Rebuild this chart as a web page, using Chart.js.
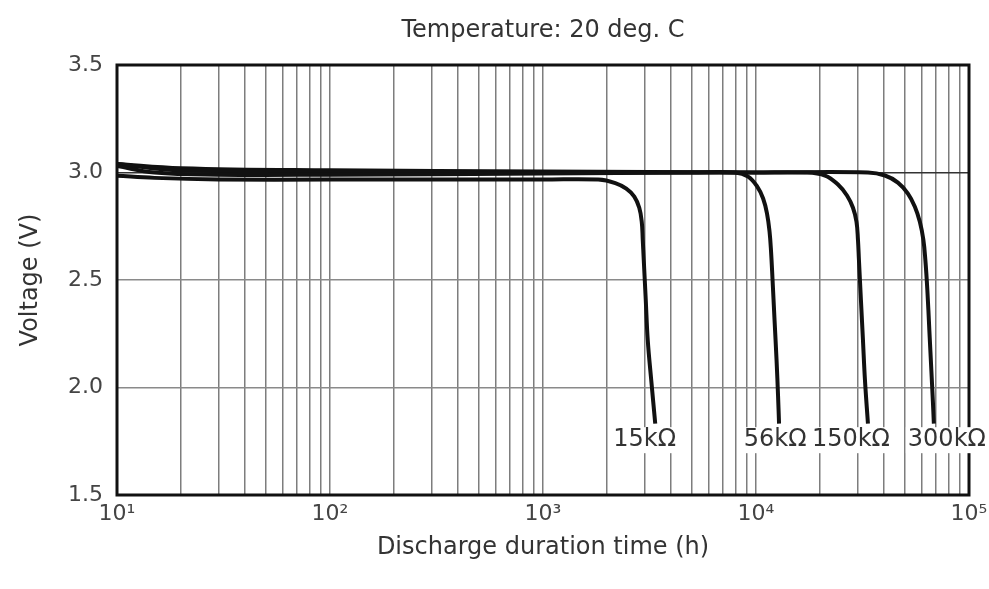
<!DOCTYPE html>
<html>
<head>
<meta charset="utf-8">
<script src="https://cdn.jsdelivr.net/npm/chart.js@4.4.1/dist/chart.umd.min.js"></script>
<style>
  html, body { margin: 0; padding: 0; background: #fff; }
  #wrap { width: 989px; height: 589px; position: relative; }
</style>
</head>
<body>
<div id="wrap"><canvas id="dischargeChart"></canvas></div>
<script>
// discharge curves (hours, volts)
const seriesNames = ['15kΩ', '56kΩ', '150kΩ', '300kΩ'];
const hours15k = [10, 15, 30, 100, 300, 1000, 1818, 2185, 2460, 2683, 2831, 2908, 2940, 2972, 3037, 3103, 3223, 3365];
const volts15k = [2.985, 2.975, 2.968, 2.967, 2.967, 2.967, 2.967, 2.951, 2.925, 2.888, 2.836, 2.771, 2.687, 2.593, 2.407, 2.220, 2.033, 1.832];
const hours56k = [10, 15, 30, 100, 1000, 5000, 7980, 9183, 10120, 10800, 11270, 11580, 11770, 11960, 12220, 12490, 12690, 12830];
const volts56k = [3.03, 3.0, 2.99, 2.99, 2.995, 3.0, 3.0, 2.981, 2.935, 2.879, 2.808, 2.724, 2.631, 2.5, 2.313, 2.126, 1.963, 1.832];
const hours150k = [10, 20, 100, 1000, 10000, 16990, 21090, 24260, 26740, 28530, 29630, 30110, 30430, 31090, 31780, 32480, 33540];
const volts150k = [3.04, 3.01, 3.005, 3.0, 3.0, 3.0, 2.986, 2.944, 2.893, 2.836, 2.771, 2.687, 2.593, 2.407, 2.220, 2.033, 1.832];
const hours300k = [10, 20, 100, 1000, 10000, 33540, 40300, 46370, 51670, 55700, 58780, 61060, 62390, 63750, 65140, 66570, 67650, 68390];
const volts300k = [3.04, 3.02, 3.01, 3.005, 3.0, 3.0, 2.986, 2.953, 2.902, 2.841, 2.771, 2.687, 2.593, 2.453, 2.266, 2.079, 1.939, 1.832];

// where the resistor labels sit (data coordinates)
const labelHours = [3000, 12300, 27900, 78700];
const labelVolts = [1.755, 1.755, 1.755, 1.755];

const titleText = 'Temperature: 20 deg. C';
const xTitle = 'Discharge duration time (h)';
const yTitle = 'Voltage (V)';
const yTicks = [1.5, 2.0, 2.5, 3.0, 3.5];

const FONT = 'DejaVu Sans';
const sup = { 1: '¹', 2: '²', 3: '³', 4: '⁴', 5: '⁵' };

function pairs(xs, ys) {
  return xs.map((x, i) => ({ x: x, y: ys[i] }));
}

const allHours = [hours15k, hours56k, hours150k, hours300k];
const allVolts = [volts15k, volts56k, volts150k, volts300k];

// grid positions: 1..9 x each decade
const xTickValues = [];
for (let e = 1; e <= 4; e++) {
  for (let m = 1; m <= 9; m++) xTickValues.push(m * Math.pow(10, e));
}
xTickValues.push(100000);

const textPlugin = {
  id: 'textPlugin',
  afterDraw(chart) {
    const ctx = chart.ctx;
    const a = chart.chartArea;
    const xs = chart.scales.x, ys = chart.scales.y;
    ctx.save();
    // frame
    ctx.strokeStyle = '#111';
    ctx.lineWidth = 3;
    ctx.strokeRect(a.left, a.top, a.right - a.left, a.bottom - a.top);
    // title
    ctx.fillStyle = '#333';
    ctx.font = '24px "' + FONT + '"';
    ctx.textAlign = 'center';
    ctx.textBaseline = 'middle';
    ctx.fillText(titleText, (a.left + a.right) / 2, 31);
    // resistor labels
    seriesNames.forEach((name, i) => {
      const px = xs.getPixelForValue(labelHours[i]);
      const py = ys.getPixelForValue(labelVolts[i]);
      const w = ctx.measureText(name).width;
      ctx.fillStyle = '#fff';
      ctx.fillRect(px - w / 2 - 2, py - 13, w + 4, 26);
      ctx.fillStyle = '#333';
      ctx.fillText(name, px, py);
    });
    ctx.restore();
  }
};

new Chart(document.getElementById('dischargeChart'), {
  type: 'line',
  data: {
    datasets: seriesNames.map((name, i) => ({
      label: name,
      data: pairs(allHours[i], allVolts[i]),
      borderColor: '#111',
      borderWidth: 4,
      pointRadius: 0,
      tension: 0.4,
      borderJoinStyle: 'round',
      fill: false
    }))
  },
  options: {
    responsive: true,
    maintainAspectRatio: false,
    animation: false,
    layout: { padding: { top: 65, right: 20, left: 0, bottom: 0 } },
    plugins: { legend: { display: false }, tooltip: { enabled: false }, title: { display: false } },
    scales: {
      x: {
        type: 'logarithmic',
        min: 10,
        max: 100000,
        afterBuildTicks(scale) {
          scale.ticks = xTickValues.map(v => ({ value: v }));
        },
        afterFit(scale) {
          scale.height = 94;
          scale.paddingLeft = 0;
          scale.paddingRight = 0;
        },
        ticks: {
          autoSkip: false,
          maxRotation: 0,
          padding: 6,
          color: '#444',
          font: { family: FONT, size: 22 },
          callback(v) {
            const e = Math.round(Math.log10(v));
            return Math.abs(Math.pow(10, e) - v) < 1e-6 ? '10' + sup[e] : '';
          }
        },
        grid: { color: '#7d7d7d', lineWidth: 1.5, drawTicks: false },
        border: { display: false },
        title: {
          display: true, text: xTitle, color: '#333',
          font: { family: FONT, size: 24 },
          padding: { top: 0, bottom: 27 }
        }
      },
      y: {
        type: 'linear',
        min: 1.5,
        max: 3.5,
        afterBuildTicks(scale) {
          scale.ticks = yTicks.map(v => ({ value: v }));
        },
        afterFit(scale) {
          scale.width = 117;
          scale.paddingTop = 0;
          scale.paddingBottom = 0;
        },
        ticks: {
          padding: 14,
          color: '#444',
          font: { family: FONT, size: 22 },
          callback(v) { return v.toFixed(1); }
        },
        grid: {
          color: ctx => (ctx.tick && ctx.tick.value === 3.0 ? '#333' : '#8a8a8a'),
          lineWidth: 1.5,
          drawTicks: false
        },
        border: { display: false },
        title: {
          display: true, text: yTitle, color: '#333',
          font: { family: FONT, size: 24 },
          padding: { top: 16, bottom: 0 }
        }
      }
    }
  },
  plugins: [textPlugin]
});
</script>
</body>
</html>
